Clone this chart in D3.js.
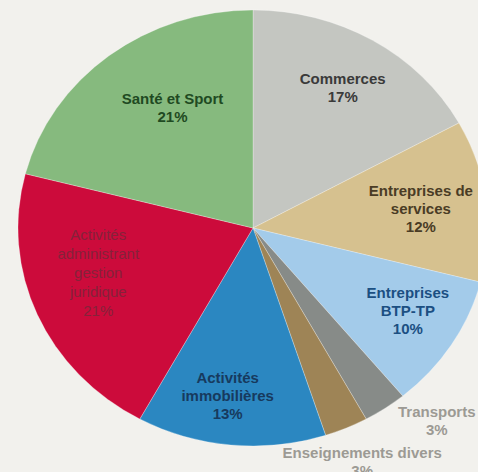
<!DOCTYPE html>
<html>
<head>
<meta charset="utf-8">
<script src="https://cdn.jsdelivr.net/npm/d3@7"></script>
<style>
  html, body { margin: 0; padding: 0; background: #f2f1ed; }
  svg { display: block; }
</style>
</head>
<body>
<div id="chart"></div>
<script>
// data, clockwise from 12 o'clock
var categories = ["Commerces", "Entreprises de services", "Entreprises BTP-TP", "Transports",
                  "Enseignements divers", "Activités immobilières", "Activités administrant gestion juridique",
                  "Santé et Sport"];
var labelLines = [["Commerces"], ["Entreprises de", "services"], ["Entreprises", "BTP-TP"], ["Transports"],
                  ["Enseignements divers"], ["Activités", "immobilières"], ["Activités", "administrant", "gestion", "juridique"],
                  ["Santé et Sport"]];
var values = [17, 12, 10, 3, 3, 13, 21, 21];
var colors = ["#c4c6c1", "#d6c18f", "#a3cbea", "#878b88", "#9e8456", "#2b87c1", "#cc0b3b", "#86ba7e"];
var textColors = ["#3a3a3a", "#4a3c25", "#1b4f82", "#9c9a94", "#9c9a94", "#173a5e", "#85223a", "#1f4a22"];

// label placement tweaks (radius as share of pie radius, angle shift in degrees)
var labelRadius = [0.75, 0.72, 0.76, 1.18, 1.17, 0.775, 0.69, 0.65];
var labelShift  = [0, 0, -2.5, -7.3, 0, 2.6, 6, 6];

function drawPie(div) {
    var width = 478,
        height = 472,
        cx = 253, cy = 228,
        r = 218,
        sx = 1.078;   // picture is slightly wider than tall

    var svg = d3.select(div).append("svg")
        .attr("width", width)
        .attr("height", height);

    svg.append("rect").attr("width", width).attr("height", height).attr("fill", "#f2f1ed");

    var pie = d3.pie().sort(null).value(function(d) { return d; });
    var arcs = pie(values);
    var arc = d3.arc().innerRadius(0).outerRadius(r);

    var g = svg.append("g")
        .attr("transform", "translate(" + cx + "," + cy + ") scale(" + sx + ",1)");

    g.selectAll("path").data(arcs).enter()
        .append("path")
        .attr("d", arc)
        .attr("fill", function(d, i) { return colors[i]; })
        .attr("stroke", "rgba(255,255,255,0.35)")
        .attr("stroke-width", 0.8)
        .attr("vector-effect", "non-scaling-stroke");

    // labels
    var lg = svg.append("g");
    arcs.forEach(function(d, i) {
        var mid = (d.startAngle + d.endAngle) / 2 + labelShift[i] * Math.PI / 180;
        var lr = r * labelRadius[i];
        var x = cx + Math.sin(mid) * lr * sx,
            y = cy - Math.cos(mid) * lr;
        var lines = labelLines[i].concat([Math.round(values[i]) + "%"]);
        var lh = (i == 6) ? 19 : 18;
        var y0 = y - (lines.length - 1) * lh / 2;
        var t = lg.append("text")
            .attr("text-anchor", "middle")
            .attr("font-family", "Liberation Sans, Arial, sans-serif")
            .attr("font-weight", i == 6 ? "normal" : "bold")
            .attr("font-size", "15px")
            .attr("fill", textColors[i]);
        lines.forEach(function(s, k) {
            t.append("tspan")
                .attr("x", x)
                .attr("y", y0 + k * lh)
                .attr("dy", "0.35em")
                .text(s);
        });
    });
}

drawPie("#chart");
</script>
</body>
</html>
